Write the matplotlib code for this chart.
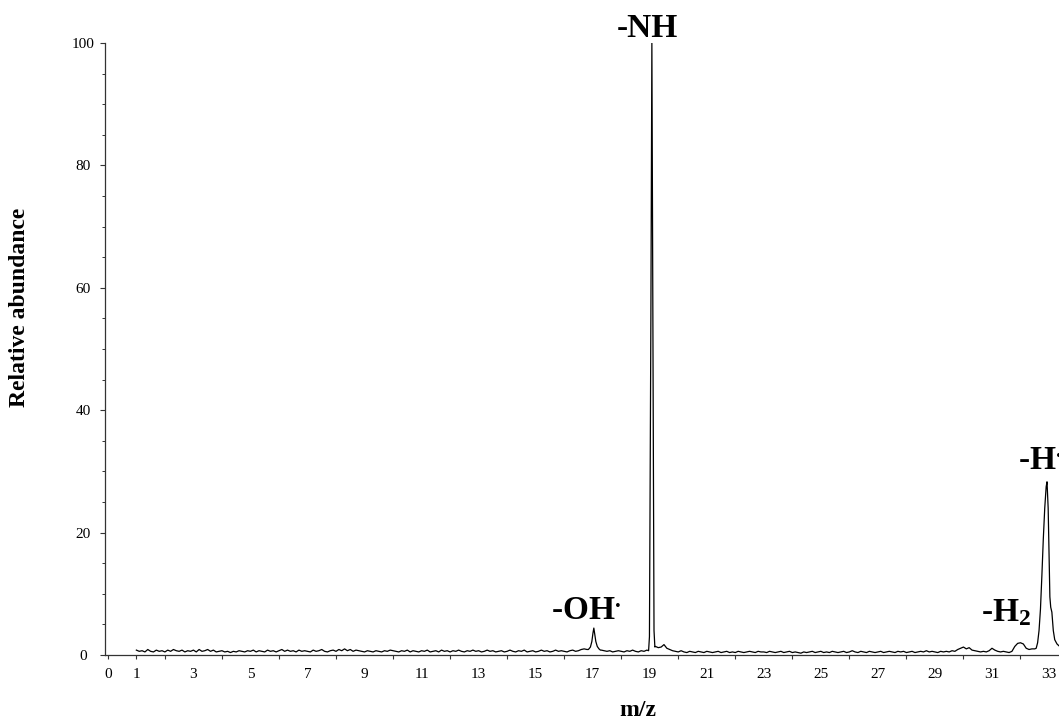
import numpy as np
import matplotlib
matplotlib.use('Agg')
import matplotlib.pyplot as plt

plt.rcParams['font.family'] = ['Liberation Serif', 'DejaVu Serif']
plt.rcParams['mathtext.fontset'] = 'custom'
plt.rcParams['mathtext.rm'] = 'Liberation Serif'
plt.rcParams['mathtext.bf'] = 'Liberation Serif:bold'
plt.rcParams['mathtext.it'] = 'Liberation Serif:italic'

# baseline trace, m/z 1.0 .. 32.5 sampled every 0.1
base_start = 1.0
base_step = 0.1
baseline = [
    0.8, 0.6, 0.7, 0.5, 0.9, 0.6, 0.5, 0.8, 0.6, 0.7,   # 1
    0.5, 0.8, 0.6, 0.9, 0.7, 0.6, 0.8, 0.5, 0.7, 0.6,   # 2
    0.8, 0.5, 0.9, 0.6, 0.7, 0.9, 0.6, 0.8, 0.5, 0.6,   # 3
    0.7, 0.5, 0.6, 0.4, 0.6, 0.5, 0.7, 0.6, 0.5, 0.7,   # 4
    0.6, 0.8, 0.5, 0.7, 0.6, 0.5, 0.8, 0.6, 0.7, 0.5,   # 5
    0.7, 0.9, 0.6, 0.8, 0.6, 0.7, 0.5, 0.8, 0.6, 0.7,   # 6
    0.6, 0.5, 0.8, 0.6, 0.7, 0.9, 0.6, 0.5, 0.7, 0.8,   # 7
    0.6, 0.9, 0.7, 1.0, 0.7, 0.9, 0.6, 0.8, 0.7, 0.6,   # 8
    0.5, 0.7, 0.6, 0.5, 0.7, 0.6, 0.5, 0.7, 0.6, 0.8,   # 9
    0.7, 0.6, 0.5, 0.7, 0.6, 0.8, 0.5, 0.7, 0.6, 0.5,   # 10
    0.7, 0.6, 0.8, 0.5, 0.6, 0.7, 0.5, 0.8, 0.6, 0.7,   # 11
    0.5, 0.7, 0.6, 0.8, 0.6, 0.5, 0.7, 0.6, 0.8, 0.6,   # 12
    0.7, 0.5, 0.6, 0.8, 0.6, 0.7, 0.5, 0.6, 0.7, 0.5,   # 13
    0.6, 0.8, 0.6, 0.5, 0.7, 0.6, 0.8, 0.5, 0.6, 0.7,   # 14
    0.5, 0.6, 0.8, 0.6, 0.7, 0.5, 0.6, 0.8, 0.6, 0.7,   # 15
    0.6, 0.5, 0.7, 0.8, 0.6, 0.7, 0.9, 1.0, 0.9, 1.2,   # 16
    4.0, 1.6, 1.0, 0.8, 0.7, 0.6, 0.7, 0.5, 0.6, 0.7,   # 17
    0.6, 0.5, 0.7, 0.6, 0.8, 0.6, 0.5, 0.7, 0.6, 0.8,   # 18
    90.0, 1.2, 1.4, 1.2, 1.3, 1.7, 1.1, 0.9, 0.7, 0.6,  # 19
    0.5, 0.7, 0.5, 0.4, 0.6, 0.5, 0.4, 0.6, 0.5, 0.4,   # 20
    0.6, 0.5, 0.4, 0.5, 0.6, 0.4, 0.5, 0.6, 0.4, 0.5,   # 21
    0.4, 0.6, 0.5, 0.4, 0.5, 0.6, 0.5, 0.4, 0.6, 0.5,   # 22
    0.5, 0.4, 0.6, 0.5, 0.4, 0.5, 0.6, 0.4, 0.5, 0.6,   # 23
    0.4, 0.5, 0.4, 0.3, 0.5, 0.4, 0.5, 0.6, 0.4, 0.5,   # 24
    0.6, 0.4, 0.5, 0.4, 0.6, 0.5, 0.4, 0.5, 0.6, 0.4,   # 25
    0.5, 0.7, 0.5, 0.4, 0.6, 0.5, 0.4, 0.6, 0.5, 0.4,   # 26
    0.5, 0.6, 0.4, 0.5, 0.6, 0.5, 0.4, 0.6, 0.5, 0.6,   # 27
    0.4, 0.5, 0.6, 0.4, 0.5, 0.6, 0.5, 0.7, 0.5, 0.6,   # 28
    0.5, 0.4, 0.6, 0.5, 0.6, 0.5, 0.7, 0.6, 0.9, 1.1,   # 29
    1.3, 1.0, 1.2, 0.8, 0.7, 0.6, 0.5, 0.6, 0.5, 0.7,   # 30
    1.1, 0.8, 0.6, 0.5, 0.6, 0.5, 0.4, 0.6, 1.4, 1.9,   # 31
    2.0, 1.8, 1.1, 0.9, 1.0, 1.0,                       # 32
]

# finer detail around the three peaks
peak17_mz = [16.85, 16.92, 16.97, 17.01, 17.04, 17.07, 17.11, 17.16, 17.22, 17.27]
peak17_ab = [0.9, 1.3, 2.2, 3.6, 4.4, 3.5, 2.2, 1.4, 1.0, 0.8]

peak19_mz = [18.96, 18.99, 19.04, 19.075, 19.11, 19.15, 19.18]
peak19_ab = [0.7, 3.0, 55.0, 100.0, 55.0, 4.0, 1.3]

peak33_mz = [32.55, 32.6, 32.65, 32.7, 32.75, 32.8, 32.85, 32.9, 32.93,
             32.97, 33.0, 33.03, 33.06, 33.1, 33.15, 33.2, 33.28, 33.35]
peak33_ab = [1.1, 2.0, 4.0, 7.5, 13.0, 19.0, 24.0, 27.5, 28.3,
             24.0, 17.0, 9.5, 7.8, 7.0, 4.0, 2.5, 1.8, 1.5]

peak_windows = [(16.8, 17.3), (18.9, 19.2), (32.5, 33.4)]

# peak annotations: text, left x (m/z), baseline y (abundance)
ann_text = ['-NH', r'-OH$^{\mathbf{.}}$', r'-H$_{\mathbf{2}}$', r'-H$^{\mathbf{.}}$']
ann_x = [17.85, 15.53, 30.6, 31.9]
ann_y = [101.0, 5.9, 5.6, 30.4]

xtick_marks = [0, 1] + list(range(2, 33, 2))
xtick_labels = [0, 1] + list(range(3, 34, 2))
ytick_major = [0, 20, 40, 60, 80, 100]
ytick_minor = [5, 10, 15, 25, 30, 35, 45, 50, 55, 65, 70, 75, 85, 90, 95]

# merge baseline with peak detail
mz_base = np.round(base_start + base_step * np.arange(len(baseline)), 2)
ab_base = np.array(baseline)
keep = np.ones(len(mz_base), dtype=bool)
for lo, hi in peak_windows:
    keep &= ~((mz_base > lo) & (mz_base < hi))
mz = np.concatenate([mz_base[keep], peak17_mz, peak19_mz, peak33_mz])
ab = np.concatenate([ab_base[keep], peak17_ab, peak19_ab, peak33_ab])
order = np.argsort(mz)
mz, ab = mz[order], ab[order]

fig = plt.figure(figsize=(10.59, 7.19), dpi=100)
ax = fig.add_axes([105 / 1059, 64 / 719, 1 - 105 / 1059, 612 / 719])

ax.plot(mz, ab, color='black', lw=0.9)

ax.set_xlim(-0.1, 33.35)
ax.set_ylim(0, 100)

for side in ['top', 'right']:
    ax.spines[side].set_visible(False)
for side in ['left', 'bottom']:
    ax.spines[side].set_color('#333333')
    ax.spines[side].set_linewidth(0.9)

# tick marks on even values, labels on odd values (plus 0 and 1)
ax.xaxis.remove_overlapping_locs = False
ax.set_xticks(xtick_marks)
ax.set_xticklabels([''] * len(xtick_marks))
ax.set_xticks(xtick_labels, minor=True)
ax.set_xticklabels([str(v) for v in xtick_labels], minor=True)
ax.tick_params(axis='x', which='major', length=3, width=0.8, color='#333333')
ax.tick_params(axis='x', which='minor', length=0, pad=9.5, labelsize=11)

ax.set_yticks(ytick_major)
ax.set_yticks(ytick_minor, minor=True)
ax.tick_params(axis='y', which='major', length=3.6, width=0.8, pad=12.2,
               labelsize=11, color='#333333')
ax.tick_params(axis='y', which='minor', length=2, width=0.7, color='#333333')
for lab in ax.get_yticklabels():
    lab.set_horizontalalignment('center')

for t, x, y in zip(ann_text, ann_x, ann_y):
    ax.text(x, y, t, fontsize=24, fontweight='bold', ha='left', va='baseline',
            clip_on=False)

fig.text(20 / 1059, 1 - 407 / 719, 'Relative abundance', rotation=90,
         ha='center', va='bottom', fontsize=17, fontweight='bold')
fig.text(638 / 1059, 1 - 710 / 719, 'm/z', ha='center', va='center',
         fontsize=17, fontweight='bold')

fig.savefig('out.png', dpi=100)
